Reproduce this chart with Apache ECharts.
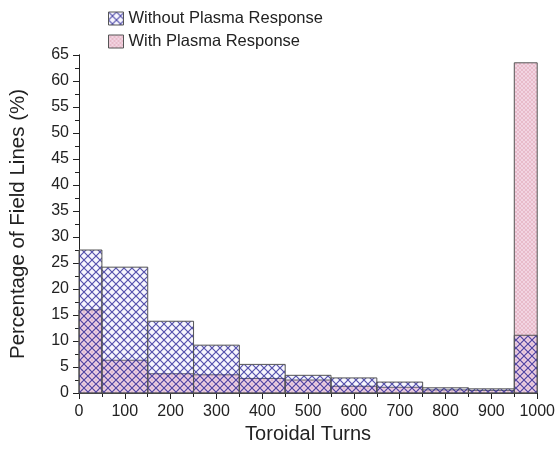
<!DOCTYPE html>
<html>
<head>
<meta charset="utf-8">
<script src="https://cdn.jsdelivr.net/npm/echarts@6/dist/echarts.min.js"></script>
<style>html,body{margin:0;padding:0;background:#fff}#c{width:558px;height:452px}</style>
</head>
<body>
<div id="c"></div>
<script>
// ---- data ----
const binEdges = [0, 50, 150, 250, 350, 450, 550, 650, 750, 850, 950, 1000];
const withoutPR = [27.5, 24.2, 13.8, 9.2, 5.5, 3.4, 2.9, 2.1, 1.0, 0.8, 11.1];
const withPR = [16.0, 6.3, 3.7, 3.5, 2.8, 2.5, 1.3, 1.1, 0.6, 0.5, 63.5];
const seriesNames = ['Without Plasma Response', 'With Plasma Response'];
const xTicks = [0, 100, 200, 300, 400, 500, 600, 700, 800, 900, 1000];
const yTicks = [0, 5, 10, 15, 20, 25, 30, 35, 40, 45, 50, 55, 60, 65];

// ---- patterns ----
function makeCross(size, bg, line, lw) {
  const c = document.createElement('canvas');
  c.width = size; c.height = size;
  const ctx = c.getContext('2d');
  ctx.fillStyle = bg; ctx.fillRect(0, 0, size, size);
  ctx.strokeStyle = line; ctx.lineWidth = lw;
  ctx.beginPath();
  ctx.moveTo(-1, -1); ctx.lineTo(size + 1, size + 1);
  ctx.moveTo(size + 1, -1); ctx.lineTo(-1, size + 1);
  ctx.stroke();
  return { image: c, repeat: 'repeat' };
}
const patWithout = makeCross(8, 'rgba(200,190,250,0.14)', 'rgba(40,35,150,0.78)', 1.2);
const patWith = makeCross(4, 'rgba(220,135,175,0.36)', 'rgba(200,110,130,0.3)', 0.8);

const dataWithout = withoutPR.map((v, i) => [binEdges[i], binEdges[i + 1], v]);
const dataWith = withPR.map((v, i) => [binEdges[i], binEdges[i + 1], v]);

function makeRender(pattern) {
  return function (params, api) {
    const p0 = api.coord([api.value(0), 0]);
    const p1 = api.coord([api.value(1), api.value(2)]);
    return {
      type: 'rect',
      shape: { x: p0[0], y: p1[1], width: p1[0] - p0[0], height: p0[1] - p1[1] },
      style: { fill: pattern, stroke: '#555', lineWidth: 1 }
    };
  };
}

const font = 'Liberation Sans';
const chart = echarts.init(document.getElementById('c'));
chart.setOption({
  animation: false,
  backgroundColor: '#fff',
  textStyle: { fontFamily: font },
  grid: { left: 79, right: 19, top: 55, bottom: 59 },
  legend: {
    orient: 'vertical', left: 103, top: 5, itemWidth: 15, itemHeight: 13, itemGap: 6,
    textStyle: { fontSize: 16.5, color: '#222', fontFamily: font },
    data: [
      { name: seriesNames[0], icon: 'rect', itemStyle: { color: patWithout, borderColor: '#555', borderWidth: 1 } },
      { name: seriesNames[1], icon: 'rect', itemStyle: { color: patWith, borderColor: '#555', borderWidth: 1 } }
    ]
  },
  xAxis: [{
    type: 'value', min: 0, max: 1000, interval: 100,
    name: 'Toroidal Turns', nameLocation: 'middle', nameGap: 31,
    nameTextStyle: { fontSize: 20, color: '#222', fontFamily: font },
    axisLine: { lineStyle: { color: '#222', width: 1 } },
    axisTick: { show: true, inside: false, length: 6, lineStyle: { color: '#222' } },
    minorTick: { show: true, splitNumber: 2, length: 4, lineStyle: { color: '#222' } },
    axisLabel: { fontSize: 16, color: '#222', margin: 11, fontFamily: font,
      formatter: v => xTicks.includes(v) ? String(v) : '' },
    splitLine: { show: false }
  }, {
    type: 'value', min: 0, max: 1000, interval: 100, position: 'top',
    axisLine: { lineStyle: { color: '#222', width: 1 } },
    axisTick: { show: true, inside: true, length: 5, lineStyle: { color: '#222' } },
    minorTick: { show: false },
    axisLabel: { show: false }, splitLine: { show: false }
  }],
  yAxis: [{
    type: 'value', min: 0, max: 65, interval: 5,
    name: 'Percentage of Field Lines (%)', nameLocation: 'middle', nameGap: 50,
    nameTextStyle: { fontSize: 20.5, color: '#222', fontFamily: font },
    axisLine: { show: true, lineStyle: { color: '#222', width: 1 } },
    axisTick: { show: true, inside: false, length: 6, lineStyle: { color: '#222' } },
    minorTick: { show: true, splitNumber: 2, length: 4, lineStyle: { color: '#222' } },
    axisLabel: { fontSize: 16, color: '#222', margin: 10, fontFamily: font,
      formatter: v => yTicks.includes(v) ? String(v) : '' },
    splitLine: { show: false }
  }, {
    type: 'value', min: 0, max: 65, interval: 5, position: 'right',
    axisLine: { show: true, lineStyle: { color: '#222', width: 1 } },
    axisTick: { show: true, inside: true, length: 6, lineStyle: { color: '#222' } },
    minorTick: { show: true, splitNumber: 2, length: 3, lineStyle: { color: '#222' } },
    axisLabel: { show: false }, splitLine: { show: false }
  }],
  series: [{
    name: seriesNames[0], type: 'custom', renderItem: makeRender(patWithout),
    encode: { x: [0, 1], y: 2 }, data: dataWithout, z: 3,
    itemStyle: { color: patWithout }
  }, {
    name: seriesNames[1], type: 'custom', renderItem: makeRender(patWith),
    encode: { x: [0, 1], y: 2 }, data: dataWith, z: 2,
    itemStyle: { color: patWith }
  }]
});
</script>
</body>
</html>
